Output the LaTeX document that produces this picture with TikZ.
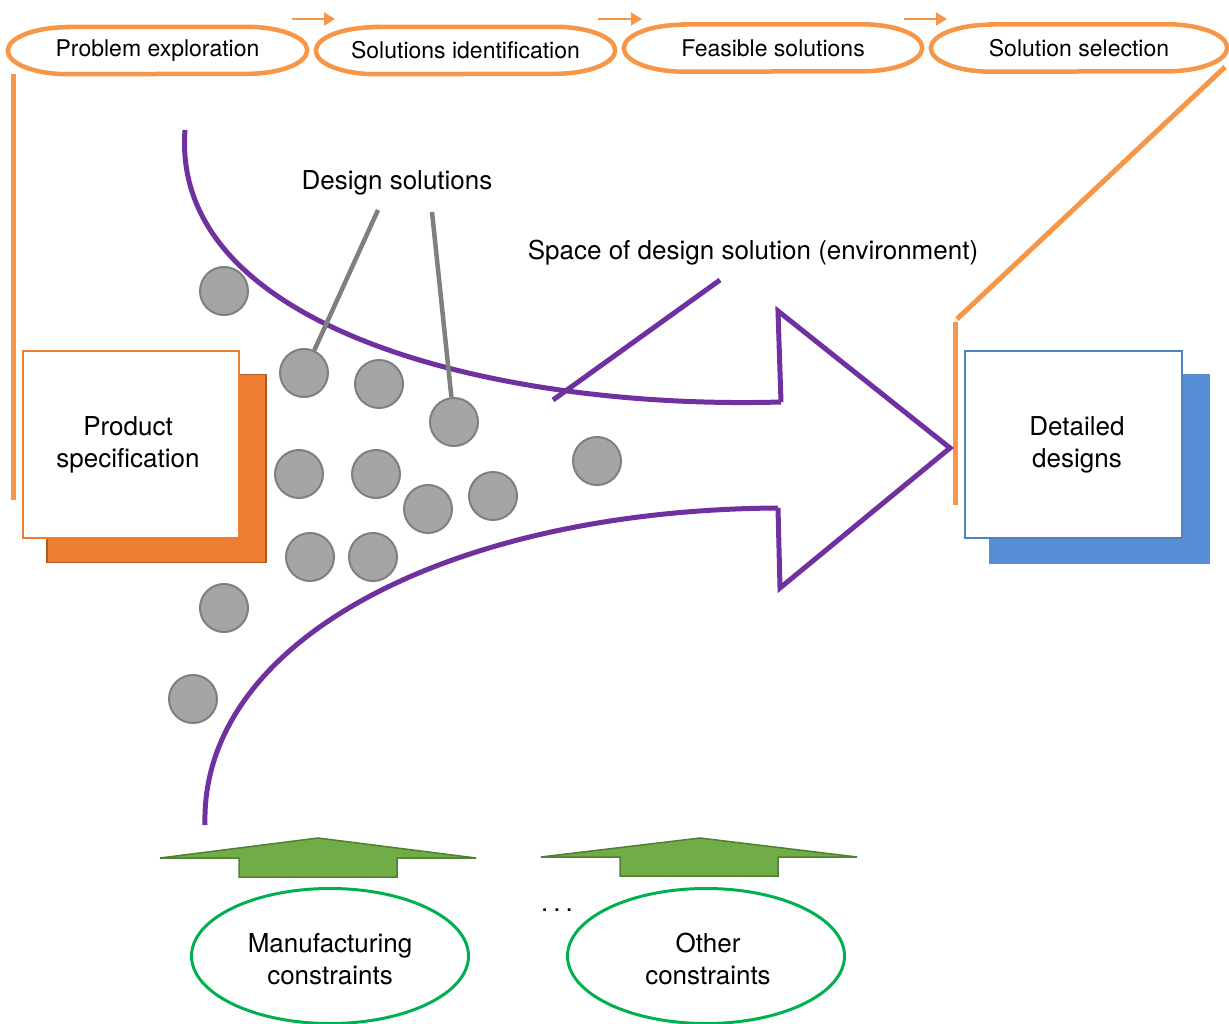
\documentclass[tikz,border=0pt]{standalone}
\usepackage{fontspec}
\setmainfont{TeX Gyre Heros}
\usetikzlibrary{shapes.geometric,arrows.meta,calc}
\definecolor{orl}{HTML}{F79646}
\definecolor{ord}{HTML}{ED7D31}
\definecolor{ordk}{HTML}{AE5A21}
\definecolor{pur}{HTML}{7030A0}
\definecolor{gfill}{HTML}{A5A5A5}
\definecolor{gline}{HTML}{7F7F7F}
\definecolor{grn}{HTML}{70AD47}
\definecolor{grnd}{HTML}{507E32}
\definecolor{grne}{HTML}{00B050}
\definecolor{blu}{HTML}{558ED5}
\definecolor{blud}{HTML}{4F81BD}
\begin{document}
\begin{tikzpicture}[x=1pt,y=-1pt,
 stage/.style={rectangle, minimum height=47pt, inner sep=0pt, font=\fontsize{23}{26}\selectfont},
 stageline/.style={draw=orl, line width=4.5pt},
 bigtxt/.style={font=\fontsize{26}{32}\selectfont, align=center},
 shadowbox/.style={rectangle, minimum width=219pt, minimum height=188pt, inner sep=0pt},
 frontbox/.style={rectangle, fill=white, line width=1.5pt, minimum width=216pt, minimum height=187pt, inner sep=0pt, bigtxt},
 dot/.style={circle, fill=gfill, draw=gline, line width=2pt, minimum size=48pt, inner sep=0pt},
 purline/.style={draw=pur, line width=5pt},
 greyline/.style={draw=gline, line width=4.5pt},
 orline/.style={draw=orl, line width=5pt},
 smallarr/.style={draw=orl, line width=2pt, -{Triangle[length=11pt,width=13pt]}},
 garrow/.style={fill=grn, draw=grnd, line width=1.5pt, line join=miter},
 cons/.style={ellipse, draw=grne, line width=3pt, minimum width=277pt, minimum height=135pt, inner sep=0pt, bigtxt}
]
\useasboundingbox (0,0) rectangle (1229,1024);

% top stages
\node[stage, minimum width=299pt] (e1) at (157.5,50.5) {Problem exploration};
\node[stage, minimum width=299pt] (e2) at (465.5,50.5) {Solutions identification};
\node[stage, minimum width=298pt] (e3) at (773,48) {Feasible solutions};
\node[stage, minimum width=296pt] (e4) at (1079,48) {Solution selection};
\foreach \n in {e1,e2,e3,e4}
  \draw[stageline] ([xshift=60pt]\n.north west) -- ([xshift=-60pt]\n.north east)
    arc[start angle=90, end angle=-90, x radius=60pt, y radius=23.5pt]
    -- ([xshift=60pt]\n.south west)
    arc[start angle=270, end angle=90, x radius=60pt, y radius=23.5pt] -- cycle;

\coordinate (a1s) at (292,19); \coordinate (a1e) at (335,19);
\coordinate (a2s) at (598,19); \coordinate (a2e) at (642,19);
\coordinate (a3s) at (904,19); \coordinate (a3e) at (947,19);
\draw[smallarr] (a1s) -- (a1e);
\draw[smallarr] (a2s) -- (a2e);
\draw[smallarr] (a3s) -- (a3e);

% orange frame lines
\coordinate (l1) at (13,74); \coordinate (l2) at (13,500);
\draw[orline] (l1) -- (l2);
\coordinate (r1) at (1225,67); \coordinate (r2) at (957,319);
\coordinate (r3) at (955,322); \coordinate (r4) at (955,505);
\draw[orline] (r1) -- (r2);
\draw[orline] (r3) -- (r4);

% product specification
\node[shadowbox, fill=ord, draw=ordk, line width=1.5pt] (pss) at (156.5,468.5) {};
\node[frontbox, draw=ord] (ps) at (131,444.5) {};
\node[bigtxt] (pst) at (128,445) {Product\\specification};

% detailed designs
\node[shadowbox, fill=blu, draw=blud!90, line width=1pt, minimum width=220pt, minimum height=189pt] (dds) at (1099,468.5) {};
\node[frontbox, draw=blud, minimum width=217pt, minimum height=187pt] (dd) at (1073.5,444.5) {};
\node[bigtxt] (ddt) at (1077,445) {Detailed\\designs};

% big purple arrow
\coordinate (p1) at (185,130);
\coordinate (p2) at (781,402);
\coordinate (p3) at (778,311);
\coordinate (tip) at (950,448);
\coordinate (p5) at (780,588);
\coordinate (p6) at (778,508);
\coordinate (p7) at (205,825);
\draw[purline] (p1) .. controls (170,330) and (500,410) .. (p2);
\draw[purline, line join=miter] (p2) -- (p3) -- (tip) -- (p5) -- (p6);
\draw[purline] (p6) .. controls (450,510) and (200,640) .. (p7);

% design solution dots
\node[dot] (c1) at (224,291) {};
\node[dot] (c2) at (304,373) {};
\node[dot] (c3) at (379,384) {};
\node[dot] (c4) at (454,422) {};
\node[dot] (c5) at (299,474) {};
\node[dot] (c6) at (376,474) {};
\node[dot] (c7) at (428,509) {};
\node[dot] (c8) at (493,496) {};
\node[dot] (c9) at (597,461) {};
\node[dot] (c10) at (310,557) {};
\node[dot] (c11) at (373,557) {};
\node[dot] (c12) at (224,608) {};
\node[dot] (c13) at (193,699) {};

% labels
\node[bigtxt] (dsl) at (397,183) {Design solutions};
\coordinate (d1) at (378,210);
\coordinate (d2) at (432,212);
\draw[greyline] (d1) -- (c2);
\draw[greyline] (d2) -- (c4);

\node[bigtxt] (spl) at (753,253) {Space of design solution (environment)};
\coordinate (s1) at (720,280);
\coordinate (s2) at (553,400);
\draw[purline] (s1) -- (s2);

% green arrows
\draw[garrow] (160,858) -- (318,838) -- (476,858) -- (397,858) -- (397,877) -- (239,877) -- (239,858) -- cycle;
\draw[garrow] (541,857) -- (700,838) -- (857,857) -- (778,857) -- (778,876) -- (620,876) -- (620,857) -- cycle;

% constraints
\node[cons] (mc) at (330,956) {};
\node[bigtxt] (mct) at (330,959) {Manufacturing\\constraints};
\node[cons] (oc) at (706,956) {};
\node[bigtxt] (oct) at (708,959) {Other\\constraints};
\node[bigtxt] (dots) at (557,910) {.\hspace{5pt}.\hspace{5pt}.};
\end{tikzpicture}
\end{document}
